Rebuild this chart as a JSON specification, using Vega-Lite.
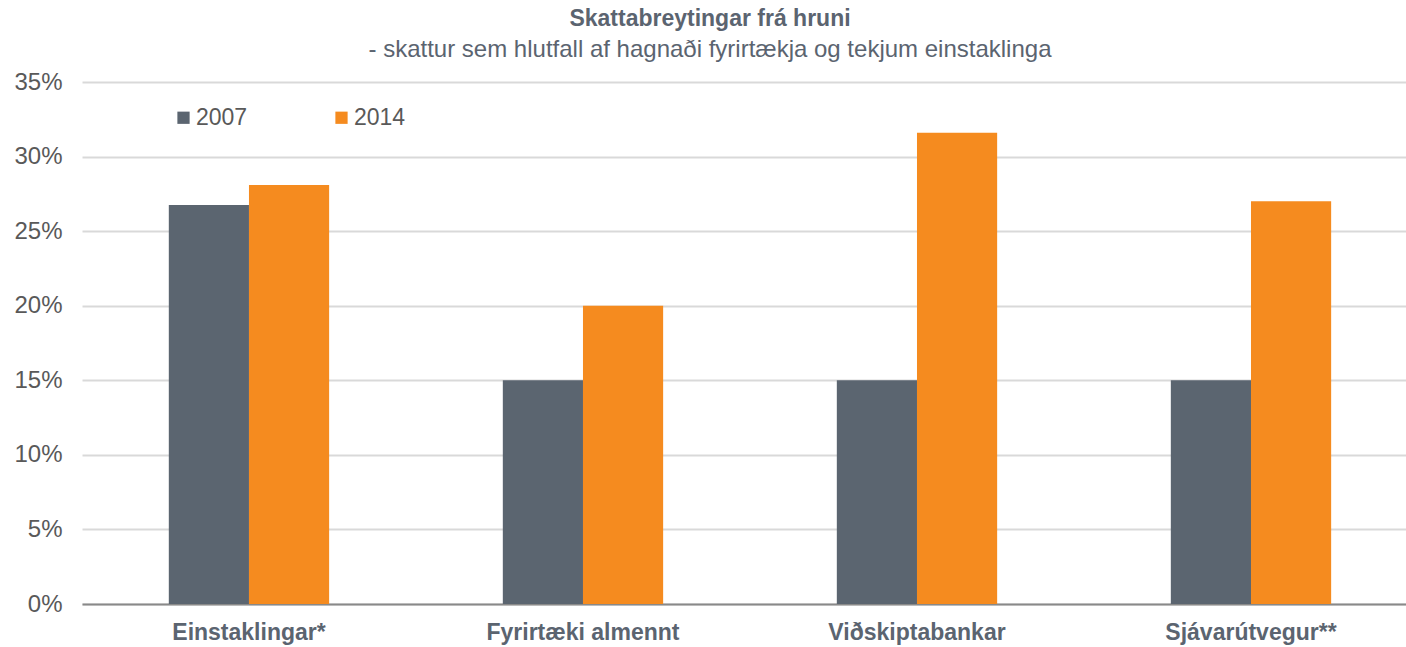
{
  "$schema": "https://vega.github.io/schema/vega-lite/v6.json",
  "width": 1324,
  "height": 522,
  "autosize": "none",
  "padding": {"left": 82, "top": 82, "right": 0, "bottom": 43},
  "background": "white",
  "title": {
    "text": "Skattabreytingar frá hruni",
    "subtitle": "- skattur sem hlutfall af hagnaði fyrirtækja og tekjum einstaklinga",
    "anchor": "middle",
    "frame": "bounds",
    "font": "Liberation Sans",
    "fontSize": 23,
    "fontWeight": "bold",
    "color": "#5b6470",
    "subtitleFont": "Liberation Sans",
    "subtitleFontSize": 24,
    "subtitleColor": "#5b6470",
    "subtitlePadding": 7,
    "offset": 8
  },
  "data": {
    "values": [
      {"flokkur": "Einstaklingar*", "ar": "2007", "hlutfall": 0.2675},
      {"flokkur": "Einstaklingar*", "ar": "2014", "hlutfall": 0.281},
      {"flokkur": "Fyrirtæki almennt", "ar": "2007", "hlutfall": 0.15},
      {"flokkur": "Fyrirtæki almennt", "ar": "2014", "hlutfall": 0.20},
      {"flokkur": "Viðskiptabankar", "ar": "2007", "hlutfall": 0.15},
      {"flokkur": "Viðskiptabankar", "ar": "2014", "hlutfall": 0.316},
      {"flokkur": "Sjávarútvegur**", "ar": "2007", "hlutfall": 0.15},
      {"flokkur": "Sjávarútvegur**", "ar": "2014", "hlutfall": 0.27}
    ]
  },
  "mark": {"type": "bar"},
  "encoding": {
    "x": {
      "field": "flokkur",
      "type": "nominal",
      "sort": null,
      "title": null,
      "scale": {"paddingInner": 0.52, "paddingOuter": 0.242, "align": 0.537},
      "axis": {
        "labelAngle": 0,
        "labelFont": "Liberation Sans",
        "labelFontSize": 23,
        "labelFontWeight": "bold",
        "labelColor": "#5b6470",
        "labelPadding": 17,
        "labelLimit": 400,
        "ticks": false,
        "domainColor": "#898989",
        "domainWidth": 2,
        "grid": false
      }
    },
    "xOffset": {"field": "ar", "type": "nominal", "scale": {"paddingInner": 0, "paddingOuter": 0}},
    "y": {
      "field": "hlutfall",
      "type": "quantitative",
      "title": null,
      "scale": {"domain": [0, 0.35], "nice": false},
      "axis": {
        "values": [0, 0.05, 0.1, 0.15, 0.2, 0.25, 0.3, 0.35],
        "format": ".0%",
        "labelFont": "Liberation Sans",
        "labelFontSize": 24,
        "labelColor": "#595959",
        "labelPadding": 20,
        "ticks": false,
        "domain": false,
        "gridColor": "#d9d9d9",
        "gridWidth": 2
      }
    },
    "color": {
      "field": "ar",
      "type": "nominal",
      "scale": {"domain": ["2007", "2014"], "range": ["#5b6570", "#f58b1f"]},
      "legend": {
        "title": null,
        "orient": "none",
        "direction": "horizontal",
        "legendX": 90,
        "legendY": 24,
        "symbolType": "square",
        "symbolSize": 150,
        "symbolStrokeWidth": 0,
        "labelFont": "Liberation Sans",
        "labelFontSize": 23,
        "labelColor": "#595959",
        "labelOffset": 1,
        "columnPadding": 82,
        "gridAlign": "all"
      }
    }
  },
  "config": {"view": {"stroke": null}}
}
